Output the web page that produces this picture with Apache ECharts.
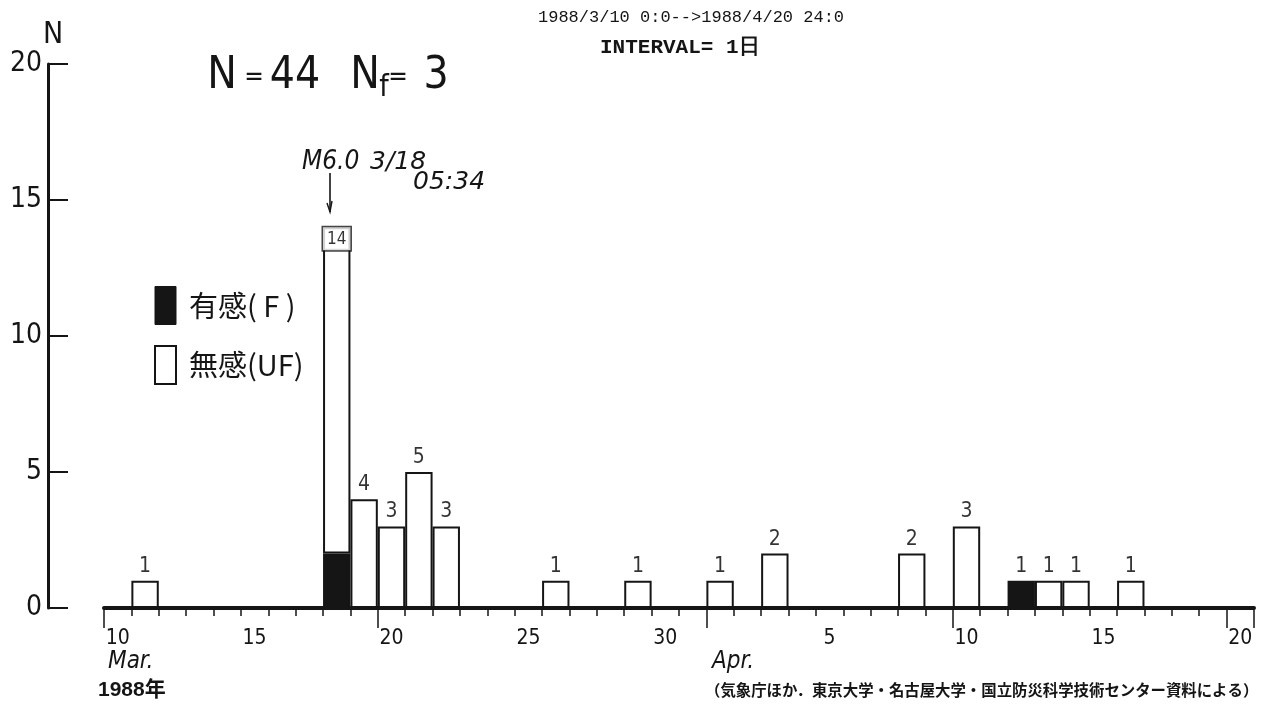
<!DOCTYPE html>
<html><head><meta charset="utf-8">
<script src="https://cdn.jsdelivr.net/npm/echarts@6/dist/echarts.min.js"></script>
<style>html,body{margin:0;padding:0;background:#fff}#c{width:1263px;height:704px}</style>
</head><body><div id="c"></div>
<script>
// Day-of-month categories, 1988/3/10 .. 1988/4/20
const days = ['10','11','12','13','14','15','16','17','18','19','20','21','22','23','24','25','26','27','28','29','30','31',
              '1','2','3','4','5','6','7','8','9','10','11','12','13','14','15','16','17','18','19','20'];
// felt (有感) counts per day
const feltCounts   = [0,0,0,0,0,0,0,0,2,0, 0,0,0,0,0,0,0,0,0,0, 0,0,0,0,0,0,0,0,0,0, 0,0,0,1,0,0,0,0,0,0, 0,0];
// unfelt (無感) counts per day
const unfeltCounts = [0,1,0,0,0,0,0,0,12,4, 3,5,3,0,0,0,1,0,0,1, 0,0,1,0,2,0,0,0,0,2, 0,3,0,0,1,1,0,1,0,0, 0,0];
// category indices that carry a tick label / a long tick
const labelIdx = [0,5,10,15,20,26,31,36,41];
const longTickIdx = [0,10,22,31,41];
const yTicks = [0,5,10,15,20];
const feltName = '有感( F )';
const unfeltName = '無感(UF)';

const totals = days.map((d,i)=>feltCounts[i]+unfeltCounts[i]);
const NARROW = '"Liberation Sans Narrow","DejaVu Sans Condensed","Liberation Sans",sans-serif';
const WIDE = '"DejaVu Sans","Liberation Sans",sans-serif';
const CJK = '"Noto Sans CJK JP","Noto Sans",sans-serif';
const INK = '#151515';

const chart = echarts.init(document.getElementById('c'), null, {renderer:'canvas'});

const txt = (x,y,text,size,extra) => Object.assign({type:'text', x:x, y:y, style:Object.assign({
  text:text, fontSize:size, fontFamily:NARROW, fill:INK, verticalAlign:'middle', align:'left'}, extra||{})});
const ctr = {align:'center'};

chart.setOption({
  backgroundColor:'#fff',
  animation:false,
  grid:{left:104, right:9, top:64, bottom:96, containLabel:false},
  legend:{
    orient:'vertical', left:149, top:281, itemWidth:21, itemHeight:38, itemGap:20,
    icon:'rect',
    data:[
      {name:feltName, itemStyle:{color:INK, borderColor:INK, borderWidth:1}},
      {name:unfeltName, itemStyle:{color:'#fff', borderColor:INK, borderWidth:2}}
    ],
    textStyle:{fontSize:29, fontFamily:CJK, color:INK, padding:[0,0,0,8]},
    selectedMode:false
  },
  xAxis:[
    {type:'category', data:days, boundaryGap:true, position:'bottom', offset:0,
     axisLine:{show:true, onZero:false, lineStyle:{color:INK, width:4}},
     axisTick:{show:true, interval:0, length:8, lineStyle:{color:INK, width:1.5}},
     axisLabel:{interval:(i)=>labelIdx.includes(i), fontSize:21, fontFamily:NARROW, color:INK, margin:20},
     splitLine:{show:false}},
    {type:'category', data:days, boundaryGap:true, position:'bottom', offset:0,
     axisLine:{show:false},
     axisTick:{show:true, interval:(i)=>longTickIdx.includes(i), length:20, lineStyle:{color:INK, width:1.5}},
     axisLabel:{show:false}, splitLine:{show:false}}
  ],
  yAxis:{
    type:'value', min:yTicks[0], max:yTicks[yTicks.length-1], interval:5, offset:56,
    name:'N', nameLocation:'end', nameGap:10,
    nameTextStyle:{fontSize:30, fontFamily:NARROW, color:INK, align:'left', padding:[0,0,0,-5]},
    axisLine:{show:true, onZero:false, lineStyle:{color:INK, width:3}},
    axisTick:{show:true, inside:true, length:20, lineStyle:{color:INK, width:2}},
    axisLabel:{fontSize:28, fontFamily:NARROW, color:INK, margin:6},
    splitLine:{show:false}
  },
  series:[
    {name:feltName, type:'bar', stack:'n', xAxisIndex:0, barCategoryGap:'0%', barGap:'0%',
     data:feltCounts.map(v=>v||'-'),
     itemStyle:{color:INK, borderColor:INK, borderWidth:2}},
    {name:unfeltName, type:'bar', stack:'n', xAxisIndex:0, barCategoryGap:'0%', barGap:'0%',
     data:unfeltCounts.map(v=>v||'-'),
     itemStyle:{color:'#fff', borderColor:INK, borderWidth:2}},
    {name:'total', type:'scatter', xAxisIndex:0, symbolSize:0, z:5,
     data:totals.map(t=>{
       if(!t) return '-';
       if(t>=10) return {value:t, label:{position:'bottom', distance:0, fontSize:17, padding:[4,4,2,4],
                     borderColor:INK, borderWidth:1.5, backgroundColor:'#fff', color:'#000'}};
       return t;
     }),
     label:{show:true, position:'top', distance:4, fontSize:21, fontFamily:NARROW, color:'#000', fontWeight:'normal'}}
  ],
  graphic:[
    txt(538,17,'1988/3/10 0:0-->1988/4/20 24:0',17,{fontFamily:'"Liberation Mono","DejaVu Sans Mono",monospace'}),
    txt(600,48,'INTERVAL= 1日',21,{fontFamily:'"Liberation Mono","DejaVu Sans Mono",monospace', fontWeight:'bold'}),
    txt(222,77,'N',44,ctr),
    txt(254,78,'=',26,ctr),
    txt(295,77,'44',44,ctr),
    txt(365,77,'N',44,ctr),
    txt(384,88,'f',30,ctr),
    txt(398,78,'=',26,ctr),
    txt(436,77,'3',44,ctr),
    txt(302,162,'M6.0',26,{fontStyle:'italic'}),
    txt(370,162,'3/18',25,{fontStyle:'italic', fontFamily:WIDE}),
    txt(413,182,'05:34',25,{fontStyle:'italic', fontFamily:WIDE}),
    {type:'line', shape:{x1:330,y1:173,x2:330,y2:212}, style:{stroke:INK, lineWidth:1.6}},
    {type:'polyline', shape:{points:[[327,203],[330,212],[332,201]]}, style:{stroke:INK, lineWidth:1.4, fill:null}},
    txt(108,662,'Mar.',24,{fontStyle:'italic'}),
    txt(712,662,'Apr.',24,{fontStyle:'italic'}),
    txt(98,690,'1988年',21,{fontFamily:'"Liberation Sans","Noto Sans CJK JP",sans-serif', fontWeight:'bold'}),
    txt(705,690,'（気象庁ほか．東京大学・名古屋大学・国立防災科学技術センター資料による）',15.4,{fontFamily:CJK, fontWeight:'bold'})
  ]
});
</script></body></html>
